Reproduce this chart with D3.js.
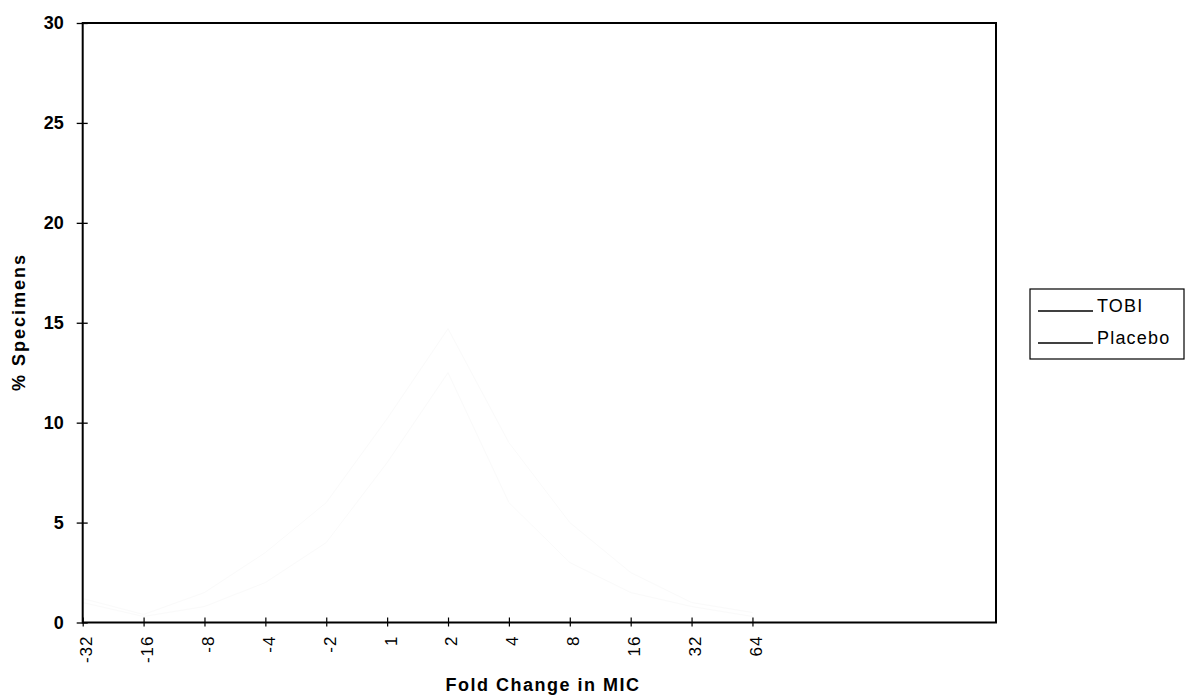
<!DOCTYPE html>
<html>
<head>
<meta charset="utf-8">
<script src="https://cdn.jsdelivr.net/npm/d3@7"></script>
<style>
  html, body { margin: 0; padding: 0; background: #fff; }
  svg { display: block; font-family: "Liberation Sans", Arial, sans-serif; }
</style>
</head>
<body>
<svg id="chart" width="1185" height="700"></svg>
<script>
// ---- data (read/estimated from the scanned reference; plotted lines are almost lost in the scan) ----
const categories = ["-32", "-16", "-8", "-4", "-2", "1", "2", "4", "8", "16", "32", "64"];
const slotCount = 15;                       // the x range continues past 64 with empty slots
const yTicks = [0, 5, 10, 15, 20, 25, 30];
const tobiValues    = [1.2, 0.4, 1.5, 3.5, 6.0, 10.2, 14.7, 9.0, 5.0, 2.5, 1.0, 0.5];
const placeboValues = [1.0, 0.3, 0.8, 2.0, 4.0, 8.0, 12.5, 6.0, 3.0, 1.5, 0.8, 0.3];
const seriesNames = ["TOBI", "Placebo"];

const svg = d3.select("#chart");
const m = { left: 82.7, top: 23, right: 996, bottom: 622.5 };
const FONT = "'Liberation Sans', Arial, sans-serif";

const x = d3.scaleLinear().domain([0, slotCount]).range([m.left, m.right]);
const y = d3.scaleLinear().domain([0, 30]).range([m.bottom, m.top]);

// faint series lines (they have all but vanished in the scanned original)
const line = d3.line().x((d, i) => x(i)).y(d => y(d));
[tobiValues, placeboValues].forEach(vals => {
  svg.append("path").datum(vals)
    .attr("fill", "none")
    .attr("stroke", "#fafafa")
    .attr("stroke-width", 1)
    .attr("d", line);
});

// plot frame
svg.append("rect")
  .attr("x", m.left).attr("y", m.top)
  .attr("width", m.right - m.left).attr("height", m.bottom - m.top)
  .attr("fill", "none").attr("stroke", "#000").attr("stroke-width", 2);

// y axis
const yAxis = d3.axisLeft(y).tickValues(yTicks).tickSize(0).tickPadding(19).tickFormat(d3.format("d"));
const gy = svg.append("g").attr("transform", `translate(${m.left},0)`).call(yAxis);
gy.select(".domain").remove();
gy.selectAll(".tick text")
  .attr("font-size", 18).attr("font-weight", "bold").attr("fill", "#000")
  .attr("font-family", FONT);
gy.selectAll(".tick").append("line")
  .attr("x1", -6).attr("x2", 5).attr("stroke", "#000").attr("stroke-width", 1.3);

// x axis
const xAxis = d3.axisBottom(x)
  .tickValues(d3.range(categories.length))
  .tickFormat(i => categories[i])
  .tickSize(0);
const gx = svg.append("g").attr("transform", `translate(0,${m.bottom})`).call(xAxis);
gx.select(".domain").remove();
gx.selectAll(".tick").append("line")
  .attr("y1", -5).attr("y2", 4).attr("stroke", "#000").attr("stroke-width", 1.2);
gx.selectAll(".tick text")
  .attr("font-size", 17).attr("fill", "#000")
  .attr("font-family", FONT)
  .attr("letter-spacing", 1)
  .attr("text-anchor", "end")
  .attr("dy", "0.35em")
  .attr("transform", "translate(3,13) rotate(-90)")
  .attr("x", 0).attr("y", 0);

// axis titles
svg.append("text")
  .attr("x", 543).attr("y", 691)
  .attr("text-anchor", "middle")
  .attr("font-size", 18).attr("font-weight", "bold")
  .attr("letter-spacing", 1.5)
  .text("Fold Change in MIC");

svg.append("text")
  .attr("transform", "translate(25,322) rotate(-90)")
  .attr("text-anchor", "middle")
  .attr("font-size", 18).attr("font-weight", "bold")
  .attr("letter-spacing", 2)
  .text("% Specimens");

// legend
const lg = svg.append("g").attr("transform", "translate(1030,289)");
lg.append("rect").attr("width", 154).attr("height", 70)
  .attr("fill", "#fff").attr("stroke", "#000").attr("stroke-width", 1.2);
seriesNames.forEach((name, i) => {
  const yy = 22 + i * 32;
  lg.append("line").attr("x1", 8).attr("x2", 63).attr("y1", yy).attr("y2", yy)
    .attr("stroke", "#000").attr("stroke-width", 1.6);
  lg.append("text").attr("x", 67).attr("y", yy + 1).attr("font-size", 18)
    .attr("letter-spacing", 1.2)
    .attr("fill", "#000").text(name);
});
</script>
</body>
</html>
